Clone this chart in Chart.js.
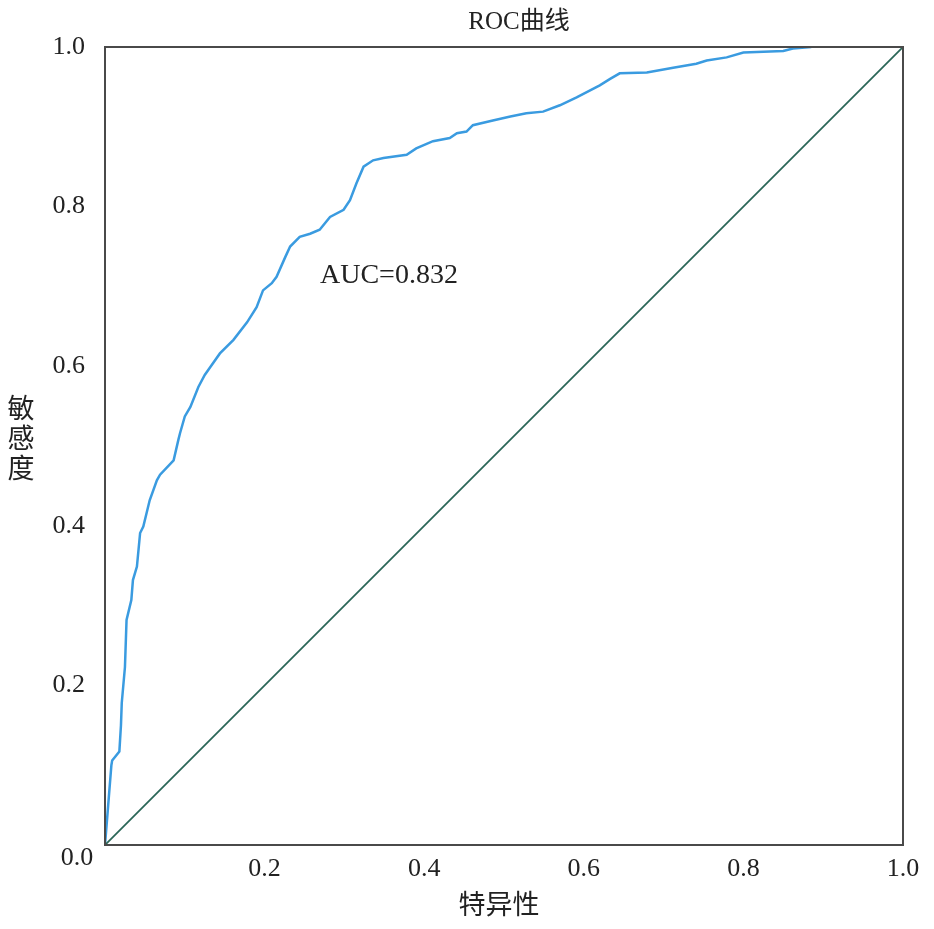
<!DOCTYPE html>
<html>
<head>
<meta charset="utf-8">
<script src="https://cdn.jsdelivr.net/npm/chart.js@4.4.0/dist/chart.umd.min.js"></script>
<style>
  html, body { margin: 0; padding: 0; background: #fff; }
  #wrap { width: 934px; height: 929px; }
</style>
</head>
<body>
<div id="wrap"><canvas id="chartArea" width="934" height="929"></canvas></div>
<script>
// ROC 곡선 값
const fpr = [0, 0.004, 0.008, 0.009, 0.018, 0.020, 0.021, 0.025, 0.027, 0.033, 0.035, 0.040, 0.044, 0.048, 0.056, 0.065, 0.069, 0.086, 0.092, 0.094, 0.100, 0.107, 0.117, 0.125, 0.132, 0.144, 0.161, 0.178, 0.190, 0.198, 0.209, 0.215, 0.226, 0.232, 0.244, 0.257, 0.269, 0.282, 0.299, 0.307, 0.315, 0.324, 0.336, 0.349, 0.378, 0.390, 0.411, 0.432, 0.441, 0.453, 0.461, 0.486, 0.508, 0.528, 0.549, 0.570, 0.591, 0.620, 0.633, 0.645, 0.679, 0.712, 0.741, 0.754, 0.779, 0.800, 0.850, 0.862, 0.885];
const tpr = [0, 0.05, 0.10, 0.106, 0.117, 0.15, 0.178, 0.223, 0.282, 0.307, 0.332, 0.349, 0.391, 0.399, 0.432, 0.457, 0.464, 0.482, 0.508, 0.516, 0.537, 0.549, 0.574, 0.589, 0.599, 0.616, 0.633, 0.655, 0.674, 0.695, 0.704, 0.712, 0.737, 0.750, 0.762, 0.766, 0.771, 0.787, 0.796, 0.808, 0.829, 0.850, 0.858, 0.861, 0.865, 0.873, 0.882, 0.886, 0.892, 0.894, 0.902, 0.908, 0.913, 0.917, 0.919, 0.927, 0.937, 0.952, 0.960, 0.967, 0.968, 0.974, 0.979, 0.983, 0.987, 0.993, 0.995, 0.998, 1.0];
const diagX = [0, 1];
const diagY = [0, 1];
const tickVals = [0, 0.2, 0.4, 0.6, 0.8, 1.0];
const titleText = 'ROC曲线';
const xTitle = '特异性';
const yTitle = '敏感度';
const aucText = 'AUC=0.832';

const serif = '"Liberation Serif", "Noto Sans CJK SC", serif';

const rocPoints = fpr.map((x, i) => ({ x: x, y: tpr[i] }));
const diagPoints = diagX.map((x, i) => ({ x: x, y: diagY[i] }));

// 제목, 축 제목, 테두리 그리기
const decor = {
  id: 'decor',
  afterDatasetsDraw(chart) {
    const ctx = chart.ctx;
    const a = chart.chartArea;
    ctx.save();
    ctx.strokeStyle = '#4a4a4a';
    ctx.lineWidth = 2;
    ctx.strokeRect(a.left, a.top, a.right - a.left, a.bottom - a.top);

    ctx.fillStyle = '#222';
    ctx.textAlign = 'center';
    ctx.textBaseline = 'middle';
    ctx.font = '25px ' + serif;
    ctx.fillText(titleText, 519, 22);

    ctx.font = '27px ' + serif;
    ctx.fillText(xTitle, 499, 907);
    for (let i = 0; i < yTitle.length; i++) {
      ctx.fillText(yTitle[i], 21, 411 + i * 30);
    }

    ctx.font = '26px ' + serif;
    ctx.fillText('0.0', 77, 858);

    ctx.textAlign = 'left';
    ctx.font = '28px ' + serif;
    ctx.fillText(aucText, 320, 276);
    ctx.restore();
  }
};

const myChart = new Chart(document.getElementById('chartArea'), {
  type: 'scatter',
  data: {
    datasets: [
      {
        data: diagPoints,
        showLine: true,
        borderColor: '#2a6657',
        borderWidth: 1.8,
        pointRadius: 0,
      },
      {
        data: rocPoints,
        showLine: true,
        borderColor: '#3a9be0',
        borderWidth: 2.5,
        pointRadius: 0,
        tension: 0,
      },
    ],
  },
  options: {
    responsive: false,
    animation: false,
    layout: { padding: { left: 0, top: 47, right: 31, bottom: 0 } },
    scales: {
      x: {
        type: 'linear',
        min: 0,
        max: 1,
        afterBuildTicks: (s) => { s.ticks = tickVals.map(v => ({ value: v })); },
        afterFit: (s) => { s.height = 84; },
        grid: { display: false },
        border: { display: false },
        ticks: {
          padding: 1,
          color: '#222',
          font: { family: serif, size: 26 },
          callback: (v) => (v === 0 ? '' : v.toFixed(1)),
        },
      },
      y: {
        type: 'linear',
        min: 0,
        max: 1,
        afterBuildTicks: (s) => { s.ticks = tickVals.map(v => ({ value: v })); },
        afterFit: (s) => { s.width = 105; },
        grid: { display: false },
        border: { display: false },
        ticks: {
          padding: 12,
          color: '#222',
          font: { family: serif, size: 26 },
          callback: (v) => (v === 0 ? '' : v.toFixed(1)),
        },
      },
    },
    plugins: {
      legend: { display: false },
      tooltip: { enabled: false },
    },
  },
  plugins: [decor],
});
</script>
</body>
</html>
